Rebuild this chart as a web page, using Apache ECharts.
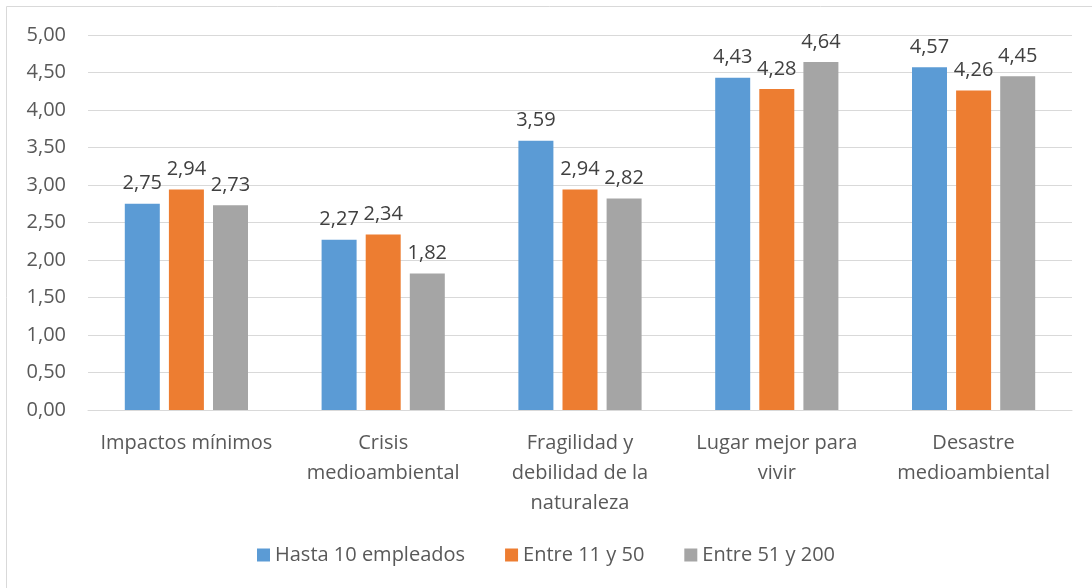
<!DOCTYPE html>
<html>
<head>
<meta charset="utf-8">
<script src="https://cdn.jsdelivr.net/npm/echarts@6/dist/echarts.min.js"></script>
<style>
  html, body { margin: 0; padding: 0; background: #fff; }
  #chart { width: 1092px; height: 588px; }
</style>
</head>
<body>
<div id="chart"></div>
<script>
// data
const categories = [
    'Impactos mínimos',
    'Crisis\nmedioambiental',
    'Fragilidad y\ndebilidad de la\nnaturaleza',
    'Lugar mejor para\nvivir',
    'Desastre\nmedioambiental'
]
const seriesNames = ['Hasta 10 empleados', 'Entre 11 y 50', 'Entre 51 y 200']
const hasta10 = [2.75, 2.27, 3.59, 4.43, 4.57]
const entre11y50 = [2.94, 2.34, 2.94, 4.28, 4.26]
const entre51y200 = [2.73, 1.82, 2.82, 4.64, 4.45]
const colors = ['#5B9BD5', '#ED7D31', '#A5A5A5']

const font = '"Open Sans", "Noto Sans", sans-serif'
const comma = (v) => Number(v).toFixed(2).replace('.', ',')

const mkSeries = (name, data, i) => ({
    name,
    type: 'bar',
    data,
    barWidth: 35,
    barGap: '26%',
    itemStyle: { color: colors[i] },
    label: {
        show: true,
        position: 'top',
        distance: 10,
        color: '#404040',
        fontSize: 20,
        fontFamily: font,
        formatter: (p) => comma(p.value),
    },
})

const chart = echarts.init(document.getElementById('chart'))

chart.setOption({
    animation: false,
    color: colors,
    graphic: [{
        type: 'polyline',
        shape: { points: [[6.5, 588], [6.5, 6.5], [1092, 6.5]] },
        style: { stroke: '#D9D9D9', lineWidth: 1, fill: null },
    }],
    grid: { left: 88, right: 20, top: 35, bottom: 178 },
    legend: {
        bottom: 18,
        left: 'center',
        itemWidth: 13,
        itemHeight: 13,
        itemGap: 40,
        icon: 'rect',
        textStyle: { color: '#595959', fontSize: 20, fontFamily: font },
        data: seriesNames,
    },
    xAxis: {
        type: 'category',
        data: categories,
        axisLine: { lineStyle: { color: '#D9D9D9', width: 1 } },
        axisTick: { show: false },
        axisLabel: {
            color: '#595959',
            fontSize: 20,
            fontFamily: font,
            lineHeight: 30,
            margin: 18,
            interval: 0,
        },
    },
    yAxis: {
        type: 'value',
        min: 0,
        max: 5,
        interval: 0.5,
        axisLine: { show: false },
        axisTick: { show: false },
        splitLine: { lineStyle: { color: '#D9D9D9', width: 1 } },
        axisLabel: {
            color: '#595959',
            fontSize: 20,
            fontFamily: font,
            margin: 22,
            formatter: comma,
        },
    },
    series: [
        mkSeries(seriesNames[0], hasta10, 0),
        mkSeries(seriesNames[1], entre11y50, 1),
        mkSeries(seriesNames[2], entre51y200, 2),
    ],
})
</script>
</body>
</html>
